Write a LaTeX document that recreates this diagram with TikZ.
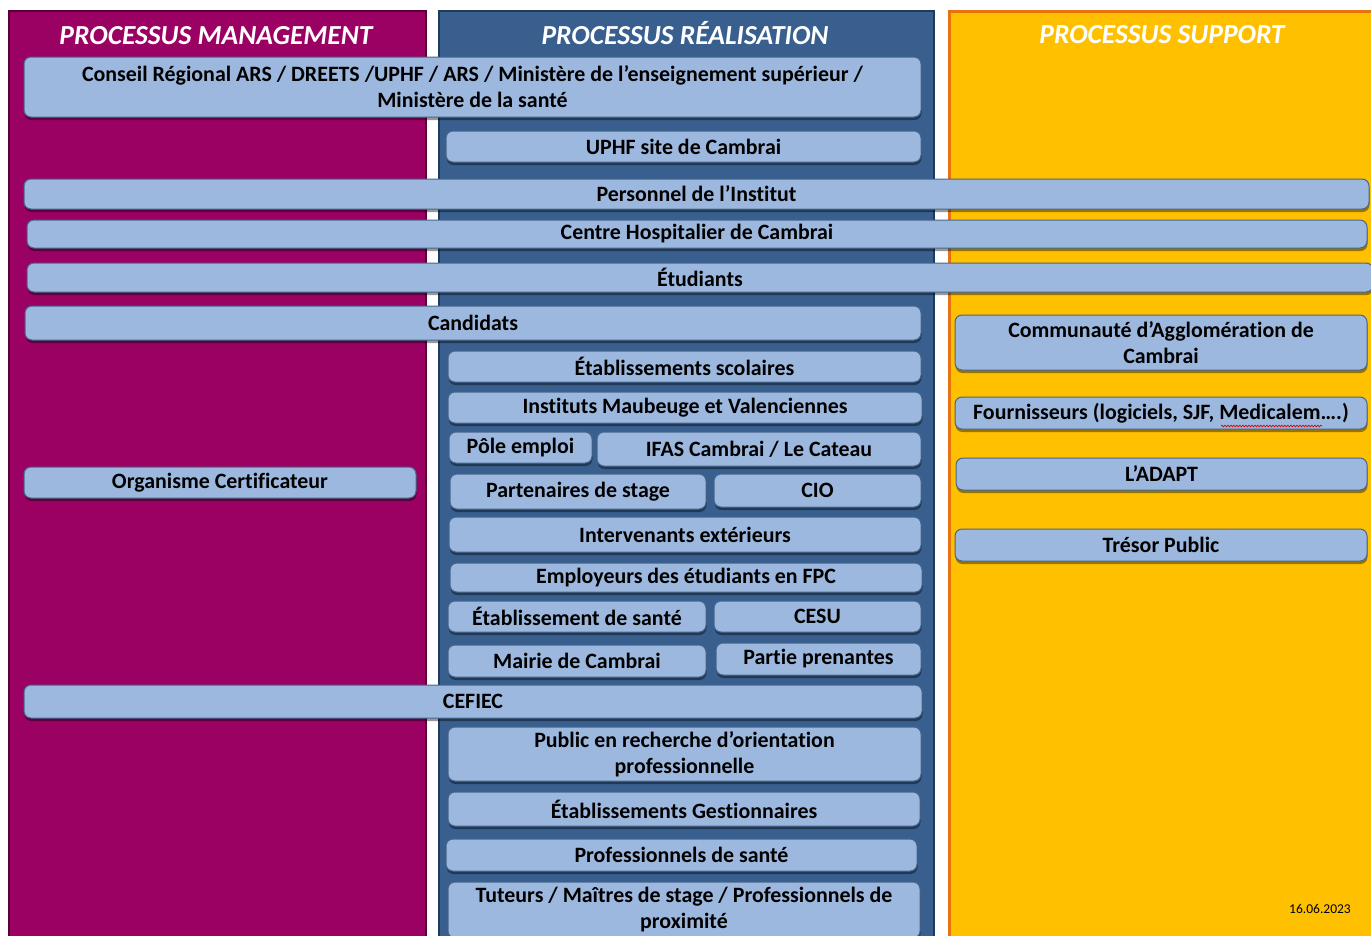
\documentclass[tikz,border=0pt]{standalone}
\usepackage{fontspec}
\setmainfont[Ligatures={NoCommon}]{Carlito}
\usetikzlibrary{shadows,decorations.pathmorphing}
\definecolor{magcol}{HTML}{9B0063}
\definecolor{magedge}{HTML}{5A0039}
\definecolor{bluecol}{HTML}{395F8F}
\definecolor{blueedge}{HTML}{1F3A5C}
\definecolor{supcol}{HTML}{FFC000}
\definecolor{supedge}{HTML}{E8730E}
\definecolor{boxfill}{HTML}{9DB8DE}
\definecolor{boxedge}{HTML}{46668C}
\tikzset{
  colbox/.style={line width=2pt},
  coltitle/.style={text=white,font=\bfseries\itshape\fontsize{27.5}{30}\selectfont,inner sep=0pt,anchor=base},
  bx/.style={rectangle,rounded corners=7pt,fill=boxfill,draw=boxedge,line width=1pt,
    inner sep=0pt,align=center,font=\bfseries\fontsize{21.9}{26}\selectfont,
    drop shadow={shadow xshift=0.5pt,shadow yshift=-3pt,opacity=0.4,fill=black}},
}
\newcommand\bx[6]{\node[bx,minimum width={(#4-#2)*1pt},minimum height={(#5-#3)*1pt}] (#1) at ({(#2+#4)/2},{(#3+#5)/2}) {#6};}
\begin{document}
\begin{tikzpicture}[x=1pt,y=-1pt]
\clip (0,0) rectangle (1371,935);
\fill[white] (0,0) rectangle (1371,935);
% columns
\draw[colbox,fill=magcol,draw=magedge] (9,11) rectangle (426,960);
\draw[colbox,fill=bluecol,draw=blueedge] (439,11) rectangle (934,960);
\draw[line width=3pt,fill=supcol,draw=supedge] (949,11) rectangle (1380,960);
\node[coltitle] (tm) at (216,44) {PROCESSUS MANAGEMENT};
\node[coltitle] (tr) at (685,44) {PROCESSUS RÉALISATION};
\node[coltitle] (ts) at (1162,43) {PROCESSUS SUPPORT};
% boxes
\bx{conseil}{24}{57}{921}{117}{Conseil Régional ARS / DREETS /UPHF / ARS / Ministère de l’enseignement supérieur /\\Ministère de la santé}
\bx{uphf}{446}{131}{921}{162}{UPHF site de Cambrai}
\bx{pers}{24}{179}{1369}{209}{Personnel de l’Institut}
\bx{chc}{27}{220}{1367}{248}{Centre Hospitalier de Cambrai}
\bx{etu}{27}{263}{1373}{292}{Étudiants}
\bx{cand}{25}{306}{921}{340}{Candidats}
\bx{agglo}{955}{315}{1367}{370}{Communauté d’Agglomération de\\Cambrai}
\bx{scol}{448}{351}{921}{382}{Établissements scolaires}
\bx{inst}{448}{392}{922}{423}{Instituts Maubeuge et Valenciennes}
\bx{fourn}{955}{397}{1367}{429}{Fournisseurs (logiciels, SJF, Medicalem….)}
\bx{pole}{449}{432}{592}{463}{Pôle emploi}
\bx{ifas}{597}{432}{921}{466}{IFAS Cambrai / Le Cateau}
\bx{orga}{24}{467}{416}{498}{Organisme Certificateur}
\bx{adapt}{956}{458}{1367}{490}{L’ADAPT}
\bx{part}{450}{474}{706}{509}{Partenaires de stage}
\bx{cio}{714}{474}{921}{507}{CIO}
\bx{interv}{449}{517}{921}{552}{Intervenants extérieurs}
\bx{tresor}{955}{529}{1367}{561}{Trésor Public}
\bx{employ}{450}{563}{922}{592}{Employeurs des étudiants en FPC}
\bx{etab}{448}{601}{706}{632}{Établissement de santé}
\bx{cesu}{714}{601}{921}{632}{CESU}
\bx{mairie}{448}{645}{706}{677}{Mairie de Cambrai}
\bx{prenant}{716}{643}{921}{675}{Partie prenantes}
\bx{cefiec}{24}{685}{922}{718}{CEFIEC}
\bx{public}{448}{727}{921}{781}{Public en recherche d’orientation\\professionnelle}
\bx{gest}{448}{792}{920}{826}{Établissements Gestionnaires}
\bx{prosante}{446}{839}{917}{871}{Professionnels de santé}
\bx{tuteurs}{448}{882}{920}{938}{Tuteurs / Maîtres de stage / Professionnels de\\proximité}
% spell-check squiggle
\draw[red!85!black,line width=0.7pt,decorate,decoration={snake,amplitude=0.8pt,segment length=3pt}] (1221,426) -- (1322,426);
% date
\node[font=\fontsize{13.5}{15}\selectfont,inner sep=0pt] (date) at (1320,909) {16.06.2023};
\end{tikzpicture}
\end{document}
